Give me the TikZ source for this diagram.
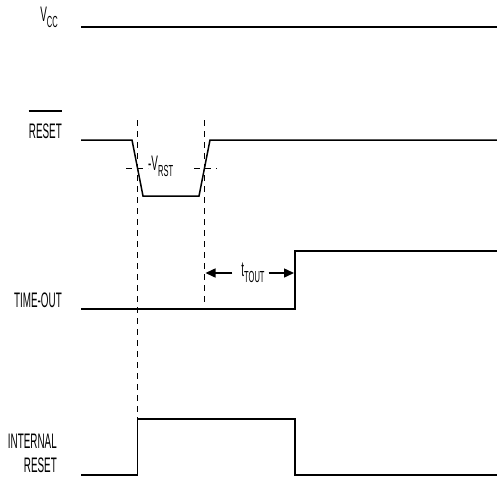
\documentclass[tikz,border=0pt]{standalone}
\usepackage{fontspec}
\setmainfont{Liberation Sans}[FakeStretch=0.47]
\usetikzlibrary{arrows.meta, positioning}

\newcommand{\lowtxt}[1]{\raisebox{-6pt}{\fontsize{16}{16}\selectfont #1}}

\begin{document}
\begin{tikzpicture}[x=1pt, y=-1pt, font=\fontsize{21}{24}\selectfont,
    wave/.style={line width=1.5pt, line join=miter},
    guide/.style={line width=0.7pt, dash pattern=on 6pt off 5pt},
    sig/.style={anchor=base east, inner sep=0pt},
    dur/.style={line width=1.5pt, -{Triangle[length=10pt, width=9pt]}}]
    \useasboundingbox (0,0) rectangle (497,476);

    % Signal names
    \node[sig] (vcc) at (58,22) {V\lowtxt{CC}};
    \node[sig] (rst) at (62,138) {RESET};
    \coordinate (bar) at (0,111);
    \draw[line width=1.2pt] (rst.west |- bar) -- (rst.east |- bar);
    \node[sig] (tmo) at (62,307) {TIME-OUT};
    \node[sig, align=right] (irst) at (57,472) {INTERNAL\\RESET};

    % Vcc
    \draw[wave] (81,27) -- (497,27);

    % RESET with threshold crossings
    \draw[wave] (81,140) -- (132,140) -- (143,196) -- (199,196) -- (210,140) -- (497,140);
    \coordinate (fall) at (137.5,168);
    \coordinate (rise) at (204.5,168);
    \node[anchor=base west, inner sep=0pt] (vrst) at (148,170) {-V\lowtxt{RST}};
    \draw[guide] (126,168) -- (vrst.west |- fall);
    \draw[guide] (194,168) -- (217,168);

    % TIME-OUT
    \draw[wave] (81,309) -- (295,309) -- (295,251) -- (497,251);

    % INTERNAL RESET
    \draw[wave] (81,475) -- (137.5,475) -- (137.5,419) -- (295,419) -- (295,475) -- (497,475);

    % Guide lines
    \draw[guide] (137.5,120) -- (fall) -- (137.5,419);
    \draw[guide] (204.5,120) -- (rise) -- (204.5,302);

    % Time-out interval
    \node[anchor=base, inner sep=0pt] (tout) at (253,276) {t\lowtxt{TOUT}};
    \coordinate (tl) at (205.5,273);
    \coordinate (tr) at (294,273);
    \draw[dur] (tout.west |- tl) ++(-9pt,0) -- (tl);
    \draw[dur] (tout.east |- tr) ++(4pt,0) -- (tr);
\end{tikzpicture}
\end{document}
